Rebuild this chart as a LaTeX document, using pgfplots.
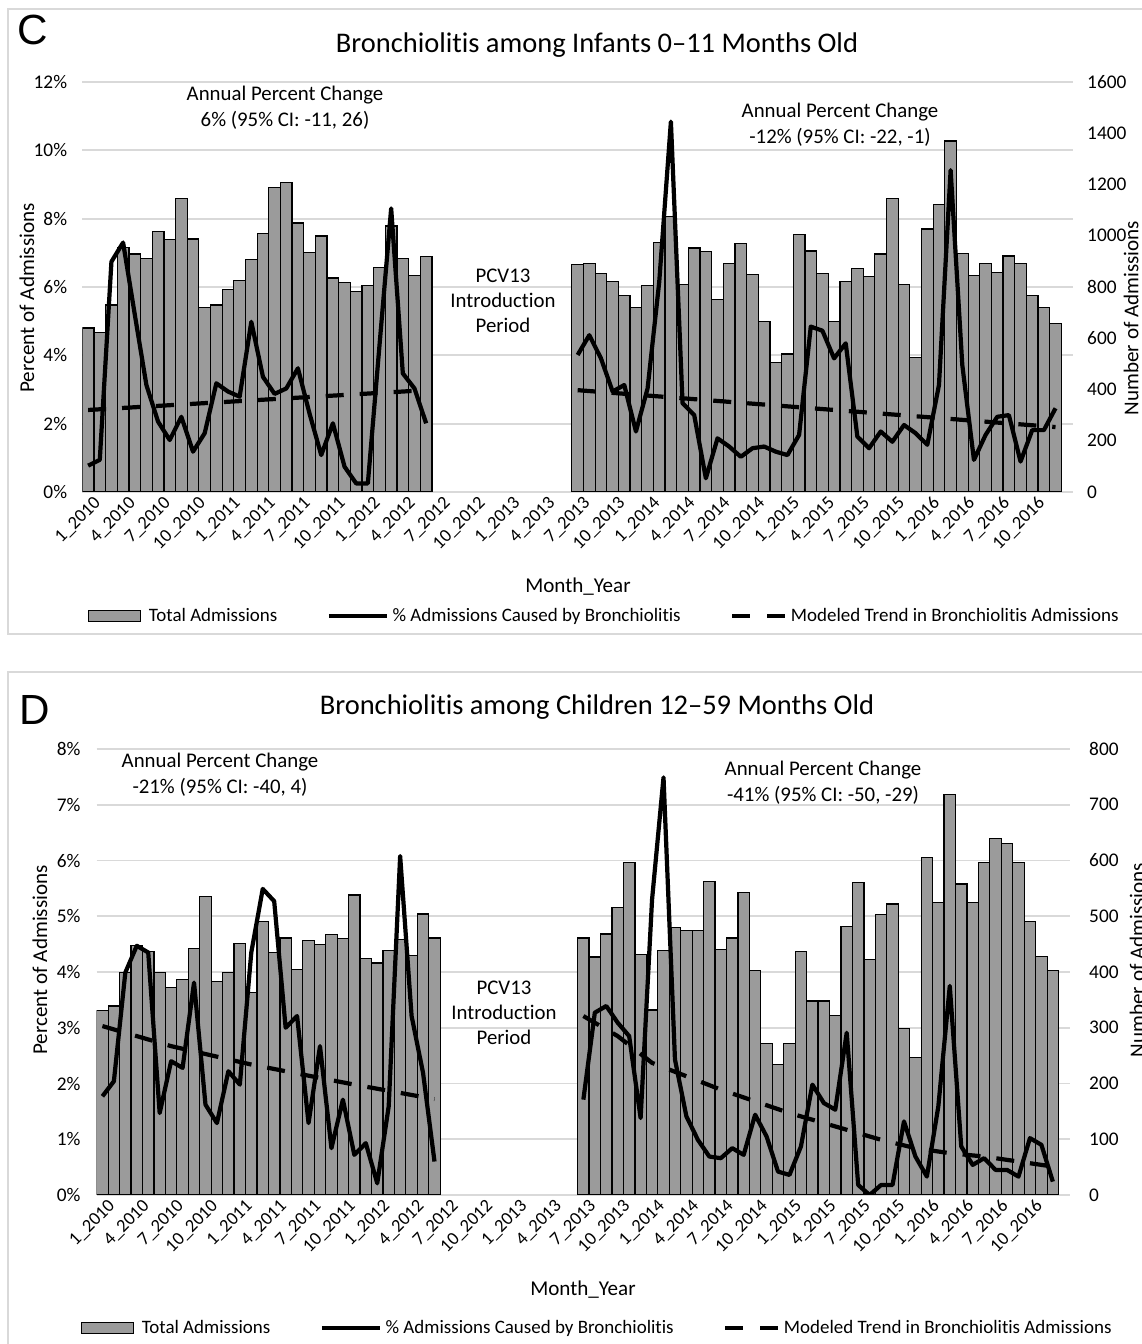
\documentclass[border=0pt]{standalone}
\usepackage{fontspec}
\setmainfont{Carlito}[Ligatures={NoCommon}]
\newfontfamily\arialfont{Liberation Sans}
\usepackage{pgfplots}
\usepackage{pgfplotstable}
\pgfplotsset{compat=1.18}

\definecolor{barfill}{RGB}{155,155,155}
\definecolor{gridgray}{RGB}{217,217,217}
\newcommand\fs[2]{\fontsize{#1}{#2}\selectfont}

% month index, admissions, % bronchiolitis
\pgfplotstableread{
m n p
0 640 0.77
1 623 0.94
2 730 6.74
3 955 7.30
4 929 5.20
5 910 3.13
6 1015 2.06
7 985 1.52
8 1146 2.20
9 987 1.18
10 721 1.72
11 730 3.18
12 790 2.94
13 825 2.79
14 908 4.98
15 1008 3.37
16 1187 2.87
17 1208 3.03
18 1050 3.62
19 934 2.29
20 999 1.08
21 835 2.01
22 817 0.74
23 783 0.25
24 806 0.25
25 877 4.30
26 1038 8.30
27 912 3.47
28 845 3.03
29 918 2.01
}\CA
\pgfplotstableread{
m n p
42 888 4.01
43 891 4.59
44 852 3.91
45 821 2.94
46 767 3.13
47 721 1.77
48 806 3.03
49 973 6.15
50 1076 10.84
51 809 2.60
52 952 2.25
53 937 0.40
54 752 1.57
55 891 1.33
56 970 1.03
57 848 1.28
58 666 1.33
59 505 1.18
60 538 1.08
61 1005 1.67
62 940 4.84
63 852 4.72
64 666 3.91
65 821 4.35
66 873 1.62
67 842 1.28
68 929 1.77
69 1146 1.47
70 809 1.96
71 526 1.72
72 1026 1.38
73 1123 3.13
74 1370 9.42
75 931 3.72
76 845 0.94
77 893 1.67
78 856 2.20
79 921 2.25
80 891 0.89
81 767 1.81
82 721 1.81
83 657 2.45
}\CB
\pgfplotstableread{
m n p
0 331 1.77
1 339 2.04
2 399 3.99
3 447 4.47
4 437 4.35
5 399 1.47
6 372 2.40
7 387 2.28
8 442 3.81
9 536 1.62
10 383 1.29
11 399 2.22
12 451 1.98
13 363 4.35
14 490 5.49
15 435 5.27
16 461 3.00
17 404 3.21
18 457 1.29
19 449 2.67
20 467 0.84
21 460 1.71
22 538 0.72
23 424 0.93
24 416 0.21
25 439 1.59
26 458 6.08
27 429 3.21
28 504 2.19
29 461 0.60
}\DA
\pgfplotstableread{
m n p
42 461 1.71
43 427 3.27
44 468 3.39
45 516 3.09
46 597 2.85
47 432 1.38
48 332 5.30
49 439 7.49
50 480 2.43
51 474 1.41
52 475 0.99
53 563 0.69
54 440 0.66
55 461 0.84
56 543 0.72
57 402 1.44
58 272 1.05
59 234 0.42
60 272 0.36
61 437 0.87
62 348 1.98
63 348 1.65
64 322 1.53
65 481 2.91
66 560 0.18
67 422 0.00
68 503 0.18
69 522 0.18
70 299 1.32
71 247 0.69
72 605 0.33
73 524 1.59
74 718 3.75
75 558 0.87
76 524 0.54
77 596 0.66
78 639 0.45
79 631 0.45
80 596 0.33
81 491 1.02
82 428 0.90
83 403 0.24
}\DB
% modeled trend
\pgfplotstableread{
m t
0 2.40
29 2.98
}\CtA
\pgfplotstableread{
m t
42 2.98
83 1.90
}\CtB
\pgfplotstableread{
m t
0 3.03
6 2.67
13 2.34
22 1.98
29 1.72
}\DtA
\pgfplotstableread{
m t
42 3.21
45 2.85
48 2.37
51 2.13
54 1.89
57 1.68
60 1.47
63 1.29
68 0.99
71 0.84
74 0.75
77 0.69
80 0.60
83 0.51
}\DtB

\pgfplotsset{
  panel/.style={scale only axis, xmin=0, xmax=85, ymin=0,
    axis line style={draw=none}, tick style={draw=none},
    ticklabel style={font=\fs{11}{13}}},
  bars/.style={ybar, bar width=1, bar shift=0pt, fill=barfill, draw=black, line width=0.7pt},
  pct/.style={black, line width=2.4pt, line join=round},
  trend/.style={black, line width=2.4pt, dash pattern=on 3.6mm off 3.2mm},
  months/.style={xtick={0.5,3.5,...,81.5},
    xticklabels={1\_2010,4\_2010,7\_2010,10\_2010,1\_2011,4\_2011,7\_2011,10\_2011,
      1\_2012,4\_2012,7\_2012,10\_2012,1\_2013,4\_2013,7\_2013,10\_2013,
      1\_2014,4\_2014,7\_2014,10\_2014,1\_2015,4\_2015,7\_2015,10\_2015,
      1\_2016,4\_2016,7\_2016,10\_2016},
    xticklabel style={rotate=45, anchor=east, font=\fs{10.5}{12}, xshift=1.4mm, yshift=-2.6mm}},
  leg/.style={legend columns=3,
    legend style={draw=none, fill=none, font=\fs{10.8}{13},
      /tikz/every even column/.append style={column sep=9.2mm}},
    legend cell align=left},
  barleg/.style={legend image code/.code={\draw[fill=barfill,draw=black,line width=0.8pt] (0mm,-1.1mm) rectangle (10.4mm,1.1mm) (11.2mm,0mm);}},
  lineleg/.style={legend image code/.code={\draw[black,line width=2.4pt] (0mm,0mm) -- (11.6mm,0mm);}},
  dashleg/.style={legend image code/.code={\draw[black,line width=2.4pt] (0mm,0mm) -- (3.6mm,0mm) (7mm,0mm) -- (10.6mm,0mm);}},
}

\begin{document}
\begin{tikzpicture}[x=0.2mm, y=0.2mm]
\useasboundingbox (0,0) rectangle (1141,1344);
% chart areas
\draw[gridgray, line width=1pt] (8,1335) rectangle (1160,710);
\draw[gridgray, line width=1pt] (8,672) rectangle (1160,-20);

% ---------------- panel C ----------------
\begin{axis}[panel, at={(16.46mm,170.4mm)}, anchor=south west,
  width=198.14mm, height=82mm, ymax=1600,
  axis x line=none, axis y line*=right,
  ytick={0,200,...,1600},
  yticklabels={0,200,400,600,800,1000,1200,1400,1600},
  yticklabel style={xshift=1.6mm},
  extra y ticks={0,266.667,533.333,800,1066.667,1333.333,1600},
  extra y tick labels={},
  extra y tick style={grid=major, major grid style={gridgray, line width=1pt}}]
\addplot[bars] table[x expr=\thisrow{m}+0.5, y=n] {\CA};
\addplot[bars] table[x expr=\thisrow{m}+0.5, y=n] {\CB};
\end{axis}
\begin{axis}[panel, months, leg, at={(16.46mm,170.4mm)}, anchor=south west,
  width=198.14mm, height=82mm, ymax=12,
  axis x line*=bottom, axis y line*=left,
  ytick={0,2,...,12},
  yticklabels={0\%,2\%,4\%,6\%,8\%,10\%,12\%},
  yticklabel style={xshift=-1.8mm},
  legend style={at={(0.0,-0.302)}, anchor=west}]
\addlegendimage{barleg}
\addlegendentry{Total Admissions}
\addplot[pct, lineleg] table[x expr=\thisrow{m}+0.5, y=p] {\CA};
\addlegendentry{\% Admissions Caused by Bronchiolitis}
\addplot[trend, dashleg] table[x expr=\thisrow{m}+0.5, y=t] {\CtA};
\addlegendentry{Modeled Trend in Bronchiolitis Admissions}
\addplot[pct, forget plot] table[x expr=\thisrow{m}+0.5, y=p] {\CB};
\addplot[trend, forget plot] table[x expr=\thisrow{m}+0.5, y=t] {\CtB};
\end{axis}

% ---------------- panel D ----------------
\begin{axis}[panel, at={(19.34mm,29.8mm)}, anchor=south west,
  width=194.66mm, height=89.2mm, ymax=800,
  axis x line=none, axis y line*=right,
  ytick={0,100,...,800},
  yticklabels={0,100,200,300,400,500,600,700,800},
  yticklabel style={xshift=2.6mm},
  extra y ticks={0,100,...,800},
  extra y tick labels={},
  extra y tick style={grid=major, major grid style={gridgray, line width=1pt}}]
\addplot[bars] table[x expr=\thisrow{m}+0.5, y=n] {\DA};
\addplot[bars] table[x expr=\thisrow{m}+0.5, y=n] {\DB};
\end{axis}
\begin{axis}[panel, months, leg, at={(19.34mm,29.8mm)}, anchor=south west,
  width=194.66mm, height=89.2mm, ymax=8,
  axis x line*=bottom, axis y line*=left,
  ytick={0,1,...,8},
  yticklabels={0\%,1\%,2\%,3\%,4\%,5\%,6\%,7\%,8\%},
  yticklabel style={xshift=-2mm},
  legend style={at={(-0.022,-0.298)}, anchor=west}]
\addlegendimage{barleg}
\addlegendentry{Total Admissions}
\addplot[pct, lineleg] table[x expr=\thisrow{m}+0.5, y=p] {\DA};
\addlegendentry{\% Admissions Caused by Bronchiolitis}
\addplot[trend, dashleg] table[x expr=\thisrow{m}+0.5, y=t] {\DtA};
\addlegendentry{Modeled Trend in Bronchiolitis Admissions}
\addplot[pct, forget plot] table[x expr=\thisrow{m}+0.5, y=p] {\DB};
\addplot[trend, forget plot] table[x expr=\thisrow{m}+0.5, y=t] {\DtB};
\end{axis}

% ---------------- texts ----------------
\node[font=\arialfont\fs{24}{28}] at (33,1314) {C};
\node[font=\arialfont\fs{24}{28}] at (35,634) {D};
\node[font=\fs{16.2}{19}] at (597,1299) {Bronchiolitis among Infants 0--11 Months Old};
\node[font=\fs{16.2}{19}] at (597,637) {Bronchiolitis among Children 12--59 Months Old};

\node[font=\fs{11.85}{14.6}, align=center] at (285,1236) {Annual Percent Change\\6\% (95\% CI: -11, 26)};
\node[font=\fs{11.85}{14.6}, align=center] at (840,1219) {Annual Percent Change\\-12\% (95\% CI: -22, -1)};
\node[font=\fs{11.85}{14.2}, align=center] at (503,1043) {PCV13\\Introduction\\Period};
\node[font=\fs{11.85}{14.6}, align=center] at (220,569) {Annual Percent Change\\-21\% (95\% CI: -40, 4)};
\node[font=\fs{11.85}{14.6}, align=center] at (823,561) {Annual Percent Change\\-41\% (95\% CI: -50, -29)};
\node[font=\fs{11.85}{14.2}, align=center] at (504,331) {PCV13\\Introduction\\Period};

\node[font=\fs{12}{14}, rotate=90] at (27,1046) {Percent of Admissions};
\node[font=\fs{12}{14}, rotate=90] at (1131,1026) {Number of Admissions};
\node[font=\fs{12}{14}, rotate=90] at (40,384) {Percent of Admissions};
\node[font=\fs{12}{14}, rotate=90] at (1137,384) {Number of Admissions};

\node[font=\fs{12}{14}] at (578,757) {Month\_Year};
\node[font=\fs{12}{14}] at (583,54) {Month\_Year};
\end{tikzpicture}
\end{document}
